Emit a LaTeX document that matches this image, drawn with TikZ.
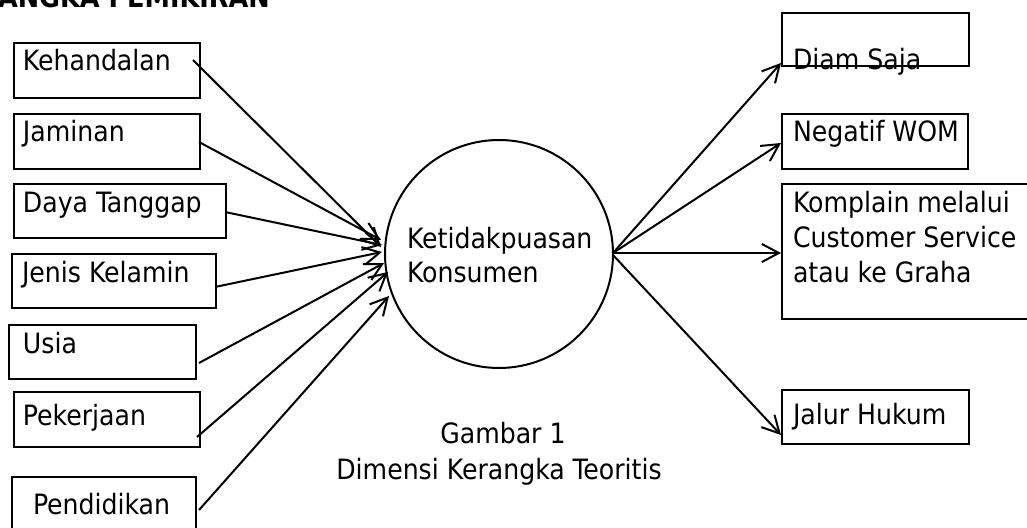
\documentclass[tikz,border=0pt]{standalone}
\usepackage{fontspec}
\setmainfont{DejaVu Sans Condensed}
\usetikzlibrary{arrows.meta}
\begin{document}
\begin{tikzpicture}[x=0.5pt,y=-0.5pt,line width=1pt,
  box/.style={draw,line width=1pt,inner sep=0pt,anchor=north west,minimum height=27.5pt},
  lbl/.style={inner sep=0pt,anchor=base west,font=\fontsize{14pt}{17.5pt}\selectfont},
  captxt/.style={inner sep=0pt,anchor=base,font=\fontsize{14pt}{17.5pt}\selectfont},
  arr/.style={-{Straight Barb[length=8.5pt,width=9pt]},line width=1pt}]
\useasboundingbox (0,0) rectangle (1027,528);
% title
\node[inner sep=0pt,anchor=base west,font=\fontsize{14.2pt}{17pt}\selectfont\bfseries] (title) at (-3,8) {ANGKA PEMIKIRAN};
% left boxes
\node[box,minimum width=93pt] (k) at (13,42) {};
\node[lbl] (kt) at (22,71) {Kehandalan};
\node[box,minimum width=93pt] (j) at (13,113) {};
\node[lbl] (jt) at (22,142) {Jaminan};
\node[box,minimum width=106pt,minimum height=27pt] (d) at (13,183) {};
\node[lbl] (dt) at (22,213) {Daya Tanggap};
\node[box,minimum width=102pt,minimum height=27pt] (jk) at (11,253) {};
\node[lbl] (jkt) at (21,283) {Jenis Kelamin};
\node[box,minimum width=93.5pt,minimum height=27pt] (u) at (8,324) {};
\node[lbl] (ut) at (22,354) {Usia};
\node[box,minimum width=93pt] (p) at (13,391) {};
\node[lbl] (pt) at (22,426) {Pekerjaan};
\node[box,minimum width=92pt,minimum height=35pt] (pd) at (11,476) {};
\node[lbl] (pdt) at (32,515) {Pendidikan};
% circle
\node[draw,circle,line width=1pt,minimum size=114pt,inner sep=0pt] (c) at (499,254) {};
\node[lbl] (ct1) at (406,249) {Ketidakpuasan};
\node[lbl] (ct2) at (406,283) {Konsumen};
% right boxes
\node[box,minimum width=93.5pt,minimum height=26.5pt] (ds) at (781,12) {};
\node[lbl] (dst) at (792,70) {Diam Saja};
\node[box,minimum width=93pt] (nw) at (781,113) {};
\node[lbl] (nwt) at (792,142) {Negatif WOM};
\node[box,minimum width=130pt,minimum height=67.5pt] (kp) at (781,183) {};
\node[lbl] (kpt1) at (792,213) {Komplain melalui};
\node[lbl] (kpt2) at (792,248) {Customer Service};
\node[lbl] (kpt3) at (792,283) {atau ke Graha};
\node[box,minimum width=93.5pt,minimum height=27pt] (jh) at (781,389) {};
\node[lbl] (jht) at (792,425) {Jalur Hukum};
% caption
\node[captxt] (cap1) at (503,444) {Gambar 1};
\node[captxt] (cap2) at (499,480) {Dimensi Kerangka Teoritis};
% connector end points
\coordinate (ks) at (193,60);   \coordinate (ke) at (381,247);
\coordinate (js) at (199,142);  \coordinate (je) at (381,240);
\coordinate (ds0) at (225,212); \coordinate (de) at (382,245);
\coordinate (jks) at (215,287); \coordinate (jke) at (382,252);
\coordinate (us) at (199,363);  \coordinate (ue) at (384,263);
\coordinate (ps) at (197,437);  \coordinate (pe) at (388,272);
\coordinate (pds) at (199,510); \coordinate (pde) at (389,296);
\coordinate (cr) at (613,253);  \coordinate (cr2) at (613,255);
\coordinate (dse) at (781,63);  \coordinate (nwe) at (781,143);
\coordinate (kpe) at (781,253); \coordinate (jhe) at (781,435);
\draw[arr] (ks) -- (ke);
\draw[arr] (js) -- (je);
\draw[arr] (ds0) -- (de);
\draw[arr] (jks) -- (jke);
\draw[arr] (us) -- (ue);
\draw[arr] (ps) -- (pe);
\draw[arr] (pds) -- (pde);
\draw[arr] (cr) -- (dse);
\draw[arr] (cr) -- (nwe);
\draw[arr] (cr) -- (kpe);
\draw[arr] (cr2) -- (jhe);
\end{tikzpicture}
\end{document}
